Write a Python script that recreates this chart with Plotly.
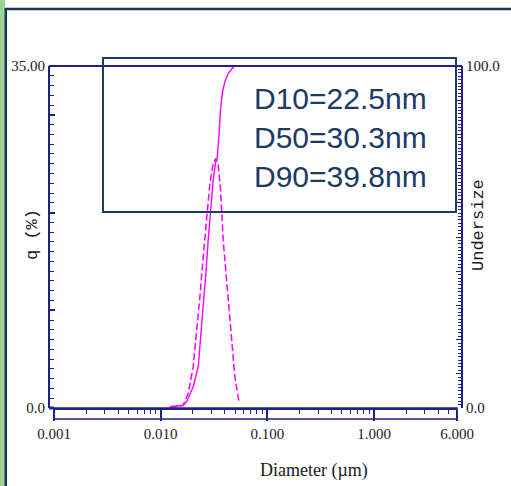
import plotly.graph_objects as go

# ---- data ----
freq_diam_um = [0.01222, 0.01452, 0.01628, 0.01813, 0.02019, 0.02173, 0.02333, 0.02505,
                0.02731, 0.02894, 0.03108, 0.03294, 0.03461, 0.03645, 0.03855, 0.04150,
                0.04388, 0.04621, 0.04962, 0.05445]
freq_q_pct = [0.05, 0.15, 0.31, 1.50, 4.23, 7.64, 11.39, 15.48,
              19.58, 22.99, 25.04, 25.55, 24.87, 22.31, 17.19, 13.10,
              9.34, 6.27, 3.20, 0.48]

cum_diam_um = [0.01222, 0.01391, 0.01618, 0.01751, 0.02019, 0.02250, 0.02368, 0.02505,
               0.02655, 0.02790, 0.02938, 0.03108, 0.03294, 0.03388, 0.03538, 0.03645,
               0.03806, 0.03999, 0.04295, 0.04722, 0.04900]
cum_undersize = [0.44, 0.58, 0.73, 1.84, 6.23, 12.08, 19.88, 29.62,
                 39.39, 49.12, 58.86, 66.67, 72.51, 73.01, 80.79, 87.63,
                 92.49, 95.41, 97.87, 99.50, 100.0]

x_tickvals = [0.001, 0.01, 0.1, 1, 6]
x_ticktext = ["0.001", "0.010", "0.100", "1.000", "6.000"]
x_minor = [m * 10 ** e for e in (-3, -2, -1, 0) for m in range(2, 10) if m * 10 ** e < 6]

yl_tickvals = [0, 10, 20, 30, 35]
yl_ticktext = ["0.0", "", "", "", "35.00"]
yr_tickvals = [0, 10, 20, 30, 40, 50, 60, 70, 80, 90, 100]
yr_ticktext = ["0.0"] + [""] * 9 + ["100.0"]

stats_text = ["D10=22.5nm", "D50=30.3nm", "D90=39.8nm"]

# ---- styling ----
W, H = 511, 486
L, R, T, B = 49, 49, 66, 78
PW, PH = W - L - R, H - T - B
NAVY = "#20208c"
BOX = "#1b3a66"
MAG = "#ff00ff"
TICKFONT = dict(family="Liberation Serif", size=15, color="#1a1a1a")


def px(x):
    return (x - L) / PW


def py(y):
    return (H - B - y) / PH


fig = go.Figure()
fig.add_trace(go.Scatter(x=freq_diam_um, y=freq_q_pct, mode="lines",
                         line=dict(color=MAG, width=1.5, dash="7px,3px"),
                         yaxis="y", showlegend=False))
fig.add_trace(go.Scatter(x=cum_diam_um, y=cum_undersize, mode="lines",
                         line=dict(color=MAG, width=1.4),
                         yaxis="y2", showlegend=False))

fig.update_layout(
    width=W, height=H, margin=dict(l=L, r=R, t=T, b=B, autoexpand=False),
    paper_bgcolor="white", plot_bgcolor="white", showlegend=False,
    xaxis=dict(type="log", range=[-3, 0.77815], domain=[px(54), px(457)],
               anchor="y", showgrid=False, zeroline=False, automargin=False,
               showline=True, linecolor=NAVY, linewidth=2,
               tickmode="array", tickvals=x_tickvals, ticktext=x_ticktext,
               ticks="outside", ticklen=11, tickwidth=1.5, tickcolor=NAVY,
               tickfont=TICKFONT,
               minor=dict(tickmode="array", tickvals=x_minor, ticks="outside",
                          ticklen=4, tickwidth=1.2, tickcolor=NAVY, showgrid=False)),
    yaxis=dict(range=[0, 35], anchor="free", position=0, side="left",
               showgrid=False, zeroline=False, automargin=False,
               showline=True, linecolor=NAVY, linewidth=2,
               tickmode="array", tickvals=yl_tickvals, ticktext=yl_ticktext,
               ticks="inside", ticklen=5, tickwidth=1.5, tickcolor=NAVY,
               tickfont=TICKFONT,
               minor=dict(dtick=1, ticks="inside", ticklen=4, tickwidth=1.2,
                          tickcolor=NAVY, showgrid=False)),
    yaxis2=dict(range=[0, 100], overlaying="y", anchor="free", position=1, side="right",
                showgrid=False, zeroline=False, automargin=False,
                showline=True, linecolor=NAVY, linewidth=2,
                tickmode="array", tickvals=yr_tickvals, ticktext=yr_ticktext,
                ticks="inside", ticklen=5, tickwidth=1.2, tickcolor=NAVY,
                tickfont=TICKFONT,
                minor=dict(dtick=1, ticks="inside", ticklen=3, tickwidth=1,
                           tickcolor=NAVY, showgrid=False)),
)

shapes = [
    # left green strip and slide borders
    dict(type="rect", xref="paper", yref="paper", x0=px(-2), x1=px(5), y0=py(-2), y1=py(H + 2),
         fillcolor="#9dd197", line=dict(width=0), layer="below"),
    dict(type="line", xref="paper", yref="paper", x0=px(5.8), x1=px(5.8), y0=py(8), y1=py(H + 2),
         line=dict(color="#17375e", width=2.5)),
    dict(type="line", xref="paper", yref="paper", x0=px(5), x1=px(W + 2), y0=py(9), y1=py(9),
         line=dict(color="#17375e", width=2.5)),
    # top frame line
    dict(type="line", xref="paper", yref="paper", x0=0, x1=1, y0=1, y1=1,
         line=dict(color=NAVY, width=2)),
    # bottom axis strip
    dict(type="rect", xref="x domain", yref="paper", x0=0, x1=1, y0=py(419), y1=0,
         line=dict(color=NAVY, width=1.5)),
    dict(type="line", xref="paper", yref="paper", x0=0, x1=px(54), y0=0, y1=0,
         line=dict(color=NAVY, width=3)),
    # statistics box
    dict(type="rect", xref="paper", yref="paper", x0=px(103), x1=px(456), y0=py(212), y1=py(58),
         line=dict(color=BOX, width=2), fillcolor="rgba(0,0,0,0)"),
]
fig.update_layout(shapes=shapes)

annotations = [
    dict(text="<br>".join(stats_text), xref="paper", yref="paper", x=px(252), y=py(137),
         xanchor="left", yanchor="middle", align="left", showarrow=False,
         font=dict(family="Liberation Sans", size=30, color=BOX)),
    dict(text="Diameter (µm)", xref="paper", yref="paper", x=px(314), y=py(470),
         xanchor="center", yanchor="middle", showarrow=False,
         font=dict(family="Liberation Serif", size=18, color="#1a1a1a")),
    dict(text="q (%)", xref="paper", yref="paper", x=px(33), y=py(235), textangle=-90,
         xanchor="center", yanchor="middle", showarrow=False,
         font=dict(family="Liberation Mono", size=17, color="#1a1a1a")),
    dict(text="Undersize", xref="paper", yref="paper", x=px(478), y=py(225), textangle=-90,
         xanchor="center", yanchor="middle", showarrow=False,
         font=dict(family="Liberation Mono", size=17, color="#1a1a1a")),
]
fig.update_layout(annotations=annotations)

fig.write_html("out.html")
